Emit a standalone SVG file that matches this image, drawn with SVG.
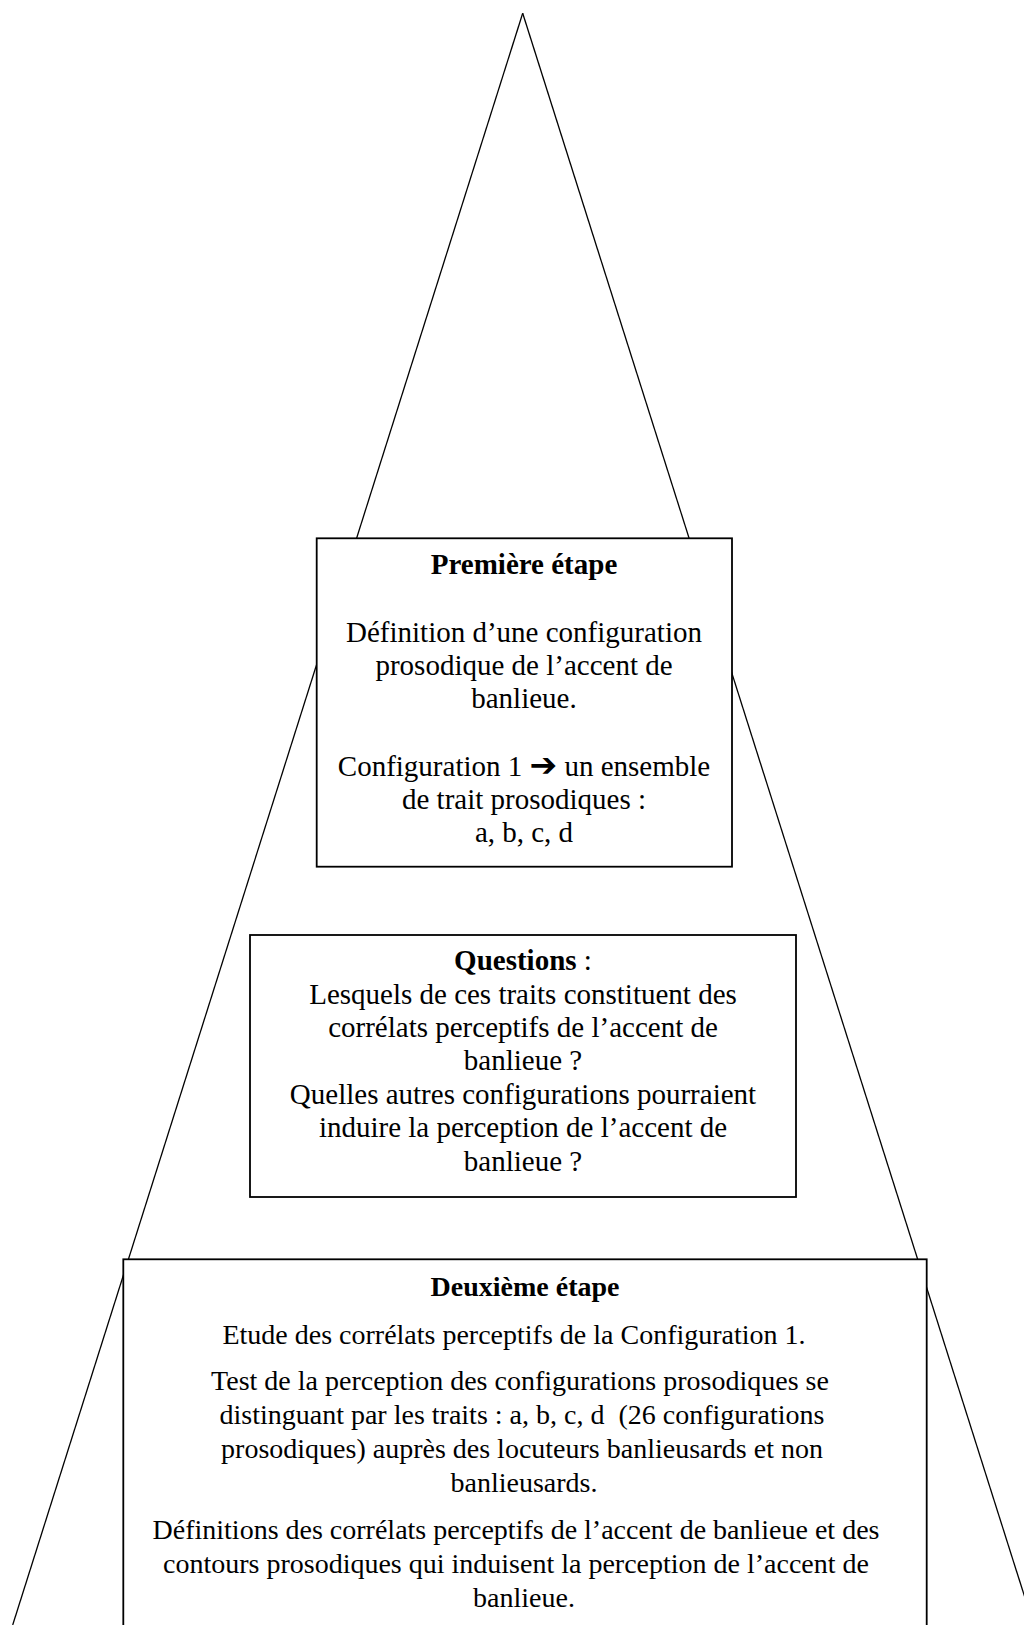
<svg xmlns="http://www.w3.org/2000/svg" width="1024" height="1625" viewBox="0 0 1024 1625">
<style>
.ln{stroke:#000;stroke-width:1.3;fill:none}
.bx{stroke:#000;stroke-width:1.8;fill:#fff}
.t{font-family:"Liberation Serif","Times New Roman",serif;font-size:29px;fill:#000;text-anchor:middle}
.t3{font-family:"Liberation Serif","Times New Roman",serif;font-size:28px;fill:#000;text-anchor:middle}
.b{font-weight:bold}
.arr{font-family:"DejaVu Sans",sans-serif;font-weight:bold;font-size:33px}
</style>
<rect width="1024" height="1625" fill="#fff"/>
<g id="connectors">
<line class="ln" x1="522.7" y1="13.3" x2="12.7" y2="1625"/>
<line class="ln" x1="522.7" y1="13.3" x2="1033.6" y2="1625"/>
</g>
<g id="etape1">
<rect class="bx" x="316.7" y="538.3" width="415.3" height="328.4"/>
<text class="t b" x="524" y="574.3">Première étape</text>
<text class="t" x="524" y="641.7">Définition d’une configuration</text>
<text class="t" x="524" y="675">prosodique de l’accent de</text>
<text class="t" x="524" y="708">banlieue.</text>
<text class="t" x="524" y="776">Configuration 1 <tspan class="arr">➔</tspan> un ensemble</text>
<text class="t" x="524" y="809">de trait prosodiques :</text>
<text class="t" x="524" y="842">a, b, c, d</text>
</g>
<g id="questions">
<rect class="bx" x="250" y="935" width="546" height="262"/>
<text class="t" x="523" y="970"><tspan class="b">Questions</tspan> :</text>
<text class="t" x="523" y="1004">Lesquels de ces traits constituent des</text>
<text class="t" x="523" y="1037">corrélats perceptifs de l’accent de</text>
<text class="t" x="523" y="1070">banlieue ?</text>
<text class="t" x="523" y="1104">Quelles autres configurations pourraient</text>
<text class="t" x="523" y="1137">induire la perception de l’accent de</text>
<text class="t" x="523" y="1171">banlieue ?</text>
</g>
<g id="etape2">
<rect class="bx" x="123.3" y="1259.3" width="803.4" height="400"/>
<text class="t3 b" x="525" y="1296">Deuxième étape</text>
<text class="t3" x="514" y="1344">Etude des corrélats perceptifs de la Configuration 1.</text>
<text class="t3" x="520" y="1390">Test de la perception des configurations prosodiques se</text>
<text class="t3" x="522" y="1424">distinguant par les traits : a, b, c, d&#160; (26 configurations</text>
<text class="t3" x="522" y="1458">prosodiques) auprès des locuteurs banlieusards et non</text>
<text class="t3" x="524" y="1492">banlieusards.</text>
<text class="t3" x="516" y="1539">Définitions des corrélats perceptifs de l’accent de banlieue et des</text>
<text class="t3" x="516" y="1573">contours prosodiques qui induisent la perception de l’accent de</text>
<text class="t3" x="524" y="1607">banlieue.</text>
</g>
</svg>
